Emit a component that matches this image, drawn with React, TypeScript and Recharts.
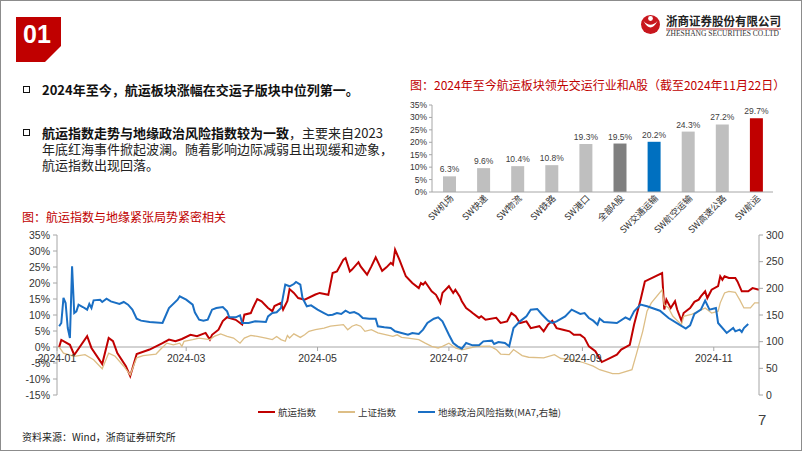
import React from 'react';
import {
  BarChart,
  Bar,
  Cell,
  LabelList,
  LineChart,
  Line,
  XAxis,
  YAxis,
  ReferenceLine,
} from 'recharts';

// ---- top-right bar chart: YTD gain by sub-sector (%)
const sectors = ['SW机场', 'SW快递', 'SW物流', 'SW铁路', 'SW港口', '全部A股', 'SW交通运输', 'SW航空运输', 'SW高速公路', 'SW航运'];
const sectorGains = [6.3, 9.6, 10.4, 10.8, 19.3, 19.5, 20.2, 24.3, 27.2, 29.7];
const gainTicks = [0, 5, 10, 15, 20, 25, 30, 35];

// ---- bottom line chart, x = day of year 2024 (Jan 1 = 1)
const monthTickDays = [1, 61, 122, 183, 245, 306];
const monthTickLabels = ['2024-01', '2024-03', '2024-05', '2024-07', '2024-09', '2024-11'];
const pctTicks = [-15, -10, -5, 0, 5, 10, 15, 20, 25, 30, 35];
const riskTicks = [0, 50, 100, 150, 200, 250, 300];

// 航运指数 (%)
const shippingDays = [
  2, 3, 7, 9, 15, 17, 22, 25, 27, 29, 33, 35, 38, 44, 50, 53, 56, 59, 63, 66,
  70, 72, 73, 76, 78, 80, 84, 87, 88, 91, 92, 94, 96, 99, 101, 102, 105, 106, 108, 109,
  111, 113, 116, 121, 123, 127, 129, 131, 134, 135, 137, 138, 141, 142, 145, 147, 149, 152, 154, 156,
  157, 158, 160, 163, 166, 169, 170, 171, 172, 175, 177, 179, 180, 183, 185, 186, 188, 189, 191, 193,
  194, 197, 198, 200, 205, 207, 210, 212, 214, 216, 219, 221, 225, 227, 229, 231, 233, 236, 239, 241,
  244, 246, 248, 251, 254, 258, 261, 263, 267, 269, 272, 274, 282, 283, 284, 286, 288, 289, 291, 292,
  295, 297, 299, 300, 302, 303, 305, 308, 309, 310, 311, 313, 316, 317, 319, 322, 324, 327,
];
const shippingValues = [
  0, 2.2, 0.7, -2.5, 3.4, -0.3, -5.3, 2.8, 1.8, -1.9, -6, -9.1, -2.2, -0.8, 1.2, 2.3, 1.8, 2.5, 3.8, 3.4,
  4.4, 2.3, 3.8, 5.4, 8.1, 9.3, 8.5, 7, 10.1, 10.6, 12.2, 15, 14.3, 12.2, 11.2, 12.8, 13.8, 11.7, 14.4, 18.1,
  16.9, 15.3, 14.8, 16.4, 16.9, 16.3, 23.1, 23.6, 27.3, 27.8, 23.6, 24.2, 26.5, 25.2, 22.6, 25.2, 28, 23.8, 24.9, 26.3,
  25.7, 30.4, 27.3, 22.1, 20, 18.4, 20, 19.5, 20.3, 17.4, 16.3, 13.8, 16.9, 19, 16.9, 17.9, 15.8, 14.3, 12.2, 11.2,
  10.6, 9.1, 9.6, 8.5, 9.1, 7.5, 8, 10.6, 9.6, 7.5, 8, 5.9, 6.5, 4.9, 7, 8.2, 5.9, 5.4, 4.9, 3.8,
  3.8, 2.8, 0.2, -1.3, -4.7, -3.4, -2.4, -0.8, 0.7, 7, 14.8, 20.5, 23.1, 11.7, 14.8, 12.2, 14.3, 11.7, 8.2, 10.6,
  12.2, 14.1, 14.8, 15.8, 17.4, 15.3, 17.9, 19, 22.1, 21, 22.1, 21.6, 21.6, 20.5, 17.4, 17.4, 18.4, 17.9,
];

// 上证指数 (%)
const shIndexDays = [
  2, 4, 9, 14, 18, 22, 25, 28, 32, 35, 38, 41, 47, 49, 52, 55, 58, 59, 60, 64,
  67, 72, 74, 77, 80, 83, 86, 88, 91, 94, 98, 101, 103, 105, 107, 108, 109, 111, 114, 116,
  118, 121, 125, 128, 134, 136, 138, 140, 142, 144, 147, 150, 154, 157, 159, 161, 164, 169, 172, 175,
  178, 180, 183, 186, 189, 196, 202, 205, 207, 211, 213, 217, 220, 227, 232, 235, 241, 246, 250, 253,
  259, 262, 268, 270, 273, 275, 277, 282, 283, 285, 287, 291, 292, 296, 299, 302, 305, 308, 309, 311,
  313, 316, 318, 320, 323, 325, 327,
];
const shIndexValues = [
  0, -1.9, -2.9, -2.4, -4, -6.8, -1.9, -2.9, -6, -8.7, -3.4, -2.7, -2.2, -0.8, 1.2, 0.7, 1.2, 0.2, 1.8, 2.3,
  2.8, 2.3, 3.3, 4.1, 3.3, 2.8, 1.2, 2.8, 3.6, 3.3, 2.8, 2.3, 3.3, 2.3, 1.8, 3.6, 2.8, 4.1, 3, 3.8,
  4.9, 5.4, 5.9, 6.5, 7, 5.4, 6.5, 7, 6.5, 4.9, 5.4, 4.4, 3.8, 3.3, 3.8, 3, 2.8, 2.3, 1.2, 0.2,
  -0.3, 0.2, 1.2, -0.3, -0.9, 0.2, 0.3, -0.8, -2.2, -2.4, -0.8, -2.7, -3.2, -3.4, -2.4, -3.6, -4, -5, -6, -7.1,
  -8.3, -8.3, -7.1, -2.4, 4.9, 11.2, 13.8, 17.9, 13.2, 12.2, 9.6, 7, 9.6, 10.3, 11.2, 12.2, 10.6, 11.2, 13.8, 16.9,
  17.4, 17.1, 14.8, 12.2, 12.2, 13.8, 13.8,
];

// 地缘政治风险指数 MA7 (right axis)
const riskDays = [
  2, 3, 4, 5, 6, 7, 8, 9, 10, 11, 13, 15, 16, 17, 18, 21, 22, 24, 26, 30,
  32, 34, 36, 38, 40, 44, 50, 51, 53, 57, 58, 61, 64, 65, 67, 69, 71, 72, 73, 75,
  78, 80, 81, 84, 86, 87, 90, 93, 98, 99, 101, 103, 105, 107, 109, 111, 112, 114, 115, 117,
  119, 122, 125, 127, 129, 131, 133, 135, 137, 139, 141, 143, 146, 149, 150, 153, 156, 158, 161, 164,
  166, 169, 171, 173, 176, 178, 180, 183, 185, 187, 189, 191, 194, 197, 199, 203, 204, 206, 209, 211,
  213, 216, 219, 221, 224, 226, 229, 231, 233, 237, 240, 244, 246, 248, 250, 252, 253, 255, 261, 265,
  267, 269, 272, 275, 281, 285, 290, 293, 295, 297, 300, 302, 304, 307, 308, 312, 315, 316, 318, 319,
  320, 322,
];
const riskValues = [
  129, 135, 182, 172.5, 125.6, 106.9, 241.3, 153.7, 156.9, 169.4, 165, 160, 170.6, 163, 177.5, 178.7, 174.4, 180.6, 175.6, 170.6,
  174.4, 169.4, 160, 143.1, 139.4, 136.9, 135, 144.4, 163, 178.7, 185, 178.7, 169.4, 155, 141.2, 139.4, 141.2, 150.6, 160, 163,
  165, 156.9, 145.6, 145.6, 149.4, 135, 135, 138.1, 136.9, 147.5, 153.7, 155, 163, 206.9, 203.8, 208.1, 211.9, 206.9, 181.9, 166.3,
  168.1, 160, 153.7, 149.4, 150.6, 153.7, 151.9, 158.1, 153.7, 155.6, 151.9, 144.4, 143.1, 143.1, 128.8, 126.9, 125.6, 119.4, 116.3, 113.1,
  116.3, 114.4, 122.5, 135, 143.1, 145.6, 138.1, 113.1, 97.5, 91.3, 86.9, 97.5, 93.1, 93.1, 100.6, 101.9, 95.6, 99.4, 97.5, 91.3,
  125.6, 138.1, 147.5, 160, 161.3, 151.9, 139.4, 135, 138.1, 147.5, 160, 151.9, 153.7, 144.4, 139.4, 131.9, 143.1, 136.9, 135, 145.6,
  141.2, 156.9, 169.4, 166.3, 158.1, 144.4, 131.9, 124.4, 130.6, 151.9, 160, 176.9, 160, 163, 135, 116.3, 125.6, 119.4, 122.5, 118.1,
  125.6, 133.1,
];

const RED = '#C00000';
const TAN = '#DDBE86';
const BLUE = '#1A6FC4';
const AXIS = '#A6A6A6';
const SANS = '"Liberation Sans", Arial, sans-serif';
const CJK = '"Noto Sans CJK SC", "Liberation Sans", sans-serif';

const barColors = ['#BFBFBF', '#BFBFBF', '#BFBFBF', '#BFBFBF', '#BFBFBF', '#7F7F7F', '#0070C0', '#BFBFBF', '#BFBFBF', RED];

const barData = sectors.map((name, i) => ({ name, gain: sectorGains[i] }));
const toPoints = (days: number[], values: number[]) => days.map((d, i) => ({ d, v: values[i] }));
const shippingData = toPoints(shippingDays, shippingValues);
const shIndexData = toPoints(shIndexDays, shIndexValues);
const riskData = toPoints(riskDays, riskValues);

const series = [
  { name: '航运指数', color: RED, width: 2 },
  { name: '上证指数', color: TAN, width: 1.5 },
  { name: '地缘政治风险指数(MA7,右轴)', color: BLUE, width: 2 },
];

// plot geometry of the line chart (chart-local px), used to put month labels on the 0% line
const LINE_TOP = 10;
const LINE_PLOT_H = 160;
const ZERO_Y = LINE_TOP + (LINE_PLOT_H * 35) / 50;

const SectorTick = ({ x, y, payload }: any) => (
  <g transform={`translate(${x + 5},${y - 1})`}>
    <text transform="rotate(-45)" textAnchor="end" fontSize={9} fontFamily={CJK} fill="#333">
      {payload.value}
    </text>
  </g>
);

const MonthTick = ({ x, payload }: any) => (
  <g>
    <line x1={x} x2={x} y1={ZERO_Y} y2={ZERO_Y + 4} stroke={AXIS} />
    <text x={x} y={ZERO_Y + 15} textAnchor="middle" fontSize={10.5} fontFamily={SANS} fill="#333">
      {monthTickLabels[monthTickDays.indexOf(payload.value)]}
    </text>
  </g>
);

const Logo = () => (
  <svg width={802} height={70} style={{ position: 'absolute', left: 0, top: 0 }}>
    <polygon points="16,17 61,17 61,46 45,62 16,62" fill={RED} />
    <text x={23} y={43} fontSize={25} fontWeight="bold" fontFamily={SANS} fill="#fff">
      01
    </text>
    <circle cx={650.5} cy={24.5} r={9.5} fill="#C8161D" />
    <path d="M643.5,21 Q650.5,34 657.5,21 Q650.5,28.5 643.5,21 Z" fill="#fff" />
    <circle cx={650.5} cy={18.5} r={2.4} fill="#fff" />
    <text x={666} y={26} fontSize={12} fontWeight="bold" fontFamily={CJK} fill="#222" textLength={115} lengthAdjust="spacingAndGlyphs">
      浙商证券股份有限公司
    </text>
    <line x1={666} x2={781} y1={29} y2={29} stroke={RED} strokeWidth={0.8} />
    <text x={666} y={36} fontSize={7.5} fontFamily='"Liberation Serif", serif' fill="#333" textLength={113} lengthAdjust="spacingAndGlyphs">
      ZHESHANG SECURITIES CO.LTD
    </text>
  </svg>
);

const Bullet = ({ top }: { top: number }) => (
  <div
    style={{
      position: 'absolute',
      left: 23,
      top,
      width: 5,
      height: 5,
      border: '1.8px solid #111',
    }}
  />
);

export default function App() {
  return (
    <div
      style={{
        position: 'absolute',
        left: 0,
        top: 0,
        width: 802,
        height: 451,
        background: '#fff',
        overflow: 'hidden',
        fontFamily: CJK,
        boxShadow: 'inset 0 0 0 1px #8c8c8c',
      }}
    >
      <Logo />

      <Bullet top={86} />
      <div style={{ position: 'absolute', left: 42, top: 82, fontSize: 13, lineHeight: '16px', fontWeight: 'bold', color: '#111', whiteSpace: 'nowrap' }}>
        2024年至今，航运板块涨幅在交运子版块中位列第一。
      </div>

      <Bullet top={129} />
      <div style={{ position: 'absolute', left: 42, top: 125, fontSize: 13, lineHeight: '16px', color: '#222', whiteSpace: 'nowrap' }}>
        <span style={{ fontWeight: 'bold', color: '#111' }}>航运指数走势与地缘政治风险指数较为一致</span>，主要来自2023
        <br />
        年底红海事件掀起波澜。随着影响边际减弱且出现缓和迹象，
        <br />
        航运指数出现回落。
      </div>

      <div style={{ position: 'absolute', left: 410, top: 77, fontSize: 12, lineHeight: '16px', color: RED, whiteSpace: 'nowrap' }}>
        图：2024年至今航运板块领先交运行业和A股（截至2024年11月22日）
      </div>

      <div style={{ position: 'absolute', left: 22, top: 209, fontSize: 12, lineHeight: '16px', color: RED, whiteSpace: 'nowrap' }}>
        图：航运指数与地缘紧张局势紧密相关
      </div>

      <div style={{ position: 'absolute', left: 0, top: 225 }}>
        <LineChart width={802} height={184} margin={{ top: LINE_TOP, right: 0, bottom: 12, left: 0 }}>
          <XAxis
            type="number"
            dataKey="d"
            domain={[1, 327]}
            ticks={monthTickDays}
            interval={0}
            axisLine={false}
            tickLine={false}
            height={2}
            tick={<MonthTick />}
          />
          <YAxis
            yAxisId="left"
            width={57}
            domain={[-15, 35]}
            ticks={pctTicks}
            interval={0}
            tickFormatter={(v: number) => `${v}%`}
            axisLine={{ stroke: AXIS }}
            tickLine={{ stroke: AXIS }}
            tickSize={4}
            tickMargin={3}
            tick={{ fontSize: 10.5, fill: '#333', fontFamily: SANS }}
          />
          <YAxis
            yAxisId="right"
            orientation="right"
            width={43}
            domain={[0, 300]}
            ticks={riskTicks}
            interval={0}
            axisLine={{ stroke: AXIS }}
            tickLine={{ stroke: AXIS }}
            tickSize={4}
            tickMargin={3}
            tick={{ fontSize: 10.5, fill: '#333', fontFamily: SANS }}
          />
          <ReferenceLine yAxisId="left" y={0} stroke={AXIS} />
          <Line data={shippingData} dataKey="v" yAxisId="left" type="linear" stroke={RED} strokeWidth={2} dot={false} isAnimationActive={false} />
          <Line data={shIndexData} dataKey="v" yAxisId="left" type="linear" stroke={TAN} strokeWidth={1.3} dot={false} isAnimationActive={false} />
          <Line data={riskData} dataKey="v" yAxisId="right" type="linear" stroke={BLUE} strokeWidth={2} dot={false} isAnimationActive={false} />
        </LineChart>
      </div>

      <div style={{ position: 'absolute', left: 400, top: 95 }}>
        <BarChart width={380} height={150} data={barData} margin={{ top: 10, right: 7, bottom: 0, left: 0 }}>
          <XAxis
            dataKey="name"
            interval={0}
            height={53}
            axisLine={{ stroke: AXIS }}
            tickLine={false}
            tick={<SectorTick />}
          />
          <YAxis
            width={32}
            domain={[0, 35]}
            ticks={gainTicks}
            interval={0}
            tickFormatter={(v: number) => `${v}%`}
            axisLine={{ stroke: AXIS }}
            tickLine={{ stroke: AXIS }}
            tickSize={3}
            tickMargin={2}
            tick={{ fontSize: 8.5, fill: '#333', fontFamily: SANS }}
          />
          <Bar dataKey="gain" barSize={13} isAnimationActive={false}>
            {barData.map((d, i) => (
              <Cell key={d.name} fill={barColors[i]} />
            ))}
            <LabelList
              dataKey="gain"
              position="top"
              offset={4}
              formatter={(v: number) => `${v}%`}
              style={{ fontSize: 8.5, fill: '#404040', fontFamily: SANS }}
            />
          </Bar>
        </BarChart>
      </div>

      <div style={{ position: 'absolute', left: 258, top: 404, display: 'flex', alignItems: 'center', fontSize: 9.5, lineHeight: '16px', color: '#333', whiteSpace: 'nowrap' }}>
        {series.map((s) => (
          <div key={s.name} style={{ display: 'flex', alignItems: 'center', marginRight: 22 }}>
            <div style={{ width: 17, height: s.width, background: s.color, marginRight: 3 }} />
            <span>{s.name}</span>
          </div>
        ))}
      </div>

      <div style={{ position: 'absolute', left: 758, top: 411, fontSize: 15, lineHeight: '18px', color: '#404040', fontFamily: SANS }}>
        7
      </div>
      <div style={{ position: 'absolute', left: 22, top: 430, fontSize: 10, lineHeight: '14px', color: '#222', whiteSpace: 'nowrap' }}>
        资料来源：Wind，浙商证券研究所
      </div>
    </div>
  );
}
